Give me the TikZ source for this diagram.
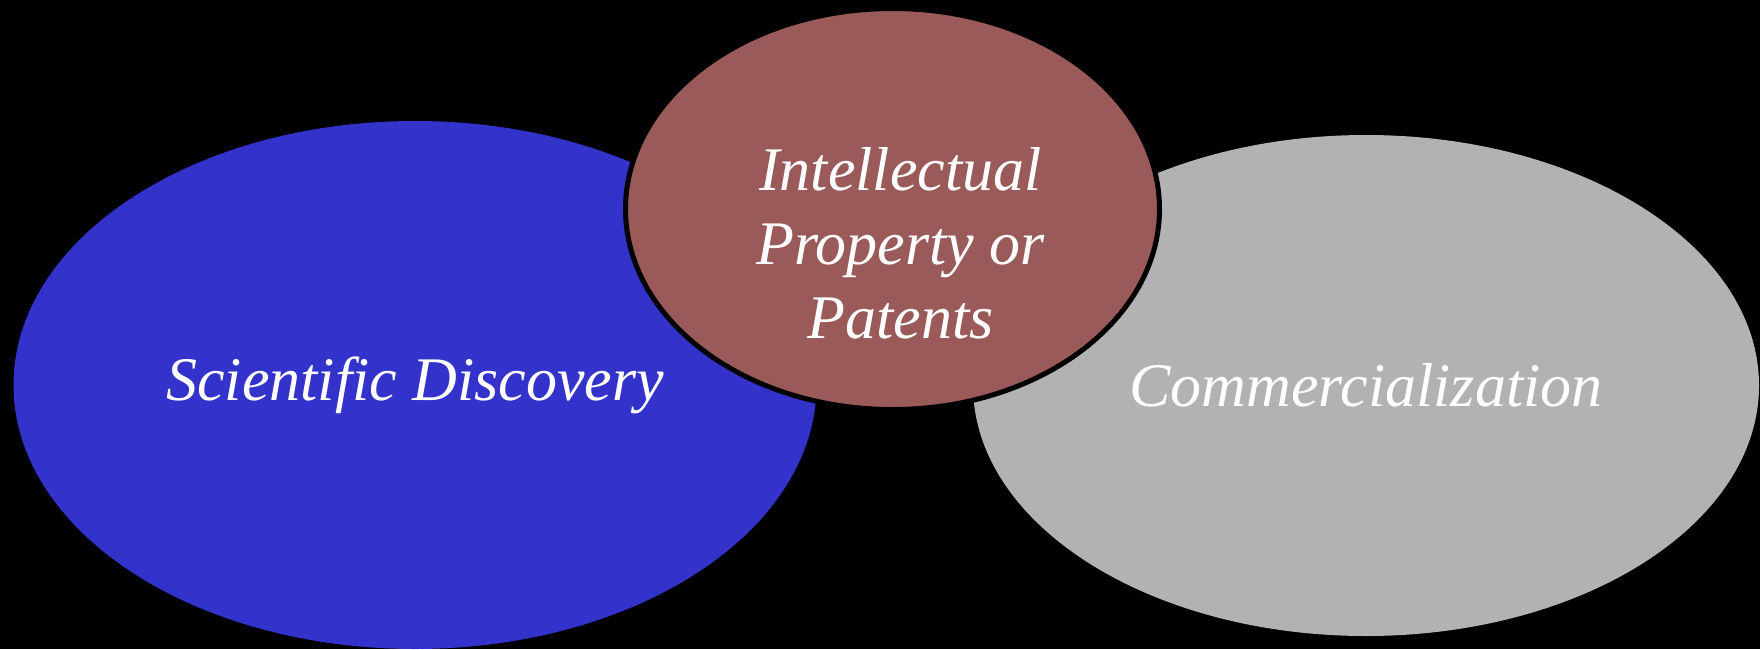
\documentclass[tikz,border=0pt]{standalone}
\usepackage{fontspec}
\setmainfont{Liberation Serif}
\usetikzlibrary{shapes.geometric}
\definecolor{discoveryblue}{RGB}{51,51,204}
\definecolor{patentred}{RGB}{155,90,90}
\definecolor{marketgrey}{RGB}{178,178,178}
\begin{document}
\begin{tikzpicture}[
  x=1pt, y=-1pt,
  blob/.style={ellipse, inner sep=0pt, text=white, align=center,
    font=\fontsize{62}{74}\selectfont\itshape},
  ]
  \fill[black] (0,0) rectangle (1760,649);
  \useasboundingbox (0,0) rectangle (1760,649);
  \node[blob, fill=discoveryblue, minimum width=803pt, minimum height=528pt] (discovery) at (415,385) {Scientific Discovery};
  \node[blob, fill=marketgrey, minimum width=786pt, minimum height=501pt] (market) at (1366,385.5) {Commercialization};
  \node[blob, fill=patentred, draw=black, line width=5pt, minimum width=534pt, minimum height=401pt] (patents) at (892.5,209) {};
  \node[blob] (patentstext) at ([xshift=8pt,yshift=-34pt]patents.center) {Intellectual\\Property or\\Patents};
\end{tikzpicture}
\end{document}
